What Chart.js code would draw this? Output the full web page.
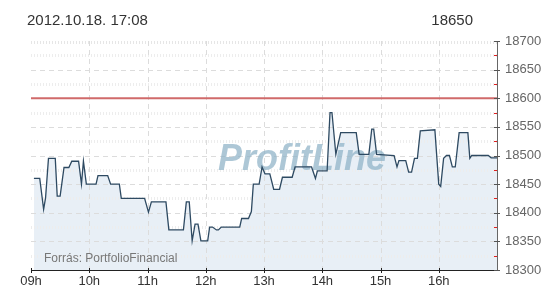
<!DOCTYPE html>
<html>
<head>
<meta charset="utf-8">
<script src="https://cdn.jsdelivr.net/npm/chart.js@4.4.0/dist/chart.umd.min.js"></script>
<style>
  html, body { margin: 0; padding: 0; background: #fff; }
  canvas { display: block; }
</style>
</head>
<body>
<canvas id="chart" width="550" height="300"></canvas>
<script>
// ---- adatok (kiolvasva a képről) ----
const times = [
  "09:03","09:09","09:13","09:15","09:18","09:25","09:27","09:30","09:34","09:39",
  "09:42","09:49","09:52","09:54","09:57","10:07","10:09","10:19","10:22","10:31",
  "10:33","10:57","11:01","11:04","11:19","11:22","11:37","11:40","11:43","11:46",
  "11:49","11:52","11:55","12:02","12:04","12:07","12:11","12:13","12:16","12:35",
  "12:37","12:44","12:47","12:49","12:55","12:58","13:01","13:06","13:10","13:16",
  "13:19","13:29","13:32","13:49","13:53","13:55","14:05","14:08","14:10","14:14",
  "14:19","14:35","14:38","14:48","14:51","14:53","14:56","15:14","15:17","15:19",
  "15:26","15:29","15:32","15:35","15:38","15:41","15:56","16:00","16:02","16:05",
  "16:08","16:11","16:14","16:17","16:21","16:30","16:32","16:34","16:51","16:54",
  "17:00"
];
const prices = [
  18460,18460,18406,18426,18495,18495,18429,18429,18479,18479,
  18490,18490,18450,18490,18450,18450,18465,18465,18450,18450,
  18425,18425,18401,18419,18419,18370,18370,18419,18419,18351,
  18380,18380,18351,18351,18375,18375,18370,18370,18375,18375,
  18390,18390,18402,18450,18450,18480,18468,18468,18441,18441,
  18462,18462,18480,18480,18460,18473,18473,18575,18575,18502,
  18540,18540,18502,18502,18546,18546,18502,18500,18480,18491,
  18491,18471,18471,18495,18495,18543,18545,18450,18446,18495,
  18500,18500,18480,18480,18540,18540,18495,18500,18500,18496,
  18496
];
const prevClose = 18600;
const hourLabels = ["09h","10h","11h","12h","13h","14h","15h","16h"];
const headerDate = "2012.10.18. 17:08";
const headerValue = "18650";
const sourceText = "Forrás: PortfolioFinancial";
const watermark = "ProfitLine";

// "HH:MM" -> perc 9:00 óta
function toMinutes(t) {
  const [h, m] = t.split(":").map(Number);
  return (h - 9) * 60 + m;
}

const points = times.map((t, i) => ({ x: toMinutes(t), y: prices[i] }));
const refLine = [{ x: 0, y: prevClose }, { x: 480, y: prevClose }];

// ---- rács, jelölők, szövegek ----
const decorPlugin = {
  id: "decor",
  beforeDatasetsDraw(chart) {
    const { ctx, chartArea: a, scales: { x, y } } = chart;
    ctx.save();
    // vízszintes rács
    for (let v = 18325; v < 18700; v += 25) {
      const py = Math.round(y.getPixelForValue(v)) + 0.5;
      ctx.beginPath();
      if (v % 50 === 0) {
        ctx.strokeStyle = "#dcdcdc";
        ctx.lineWidth = 1;
        ctx.setLineDash([5, 4]);
      } else {
        ctx.strokeStyle = "#ededed";
        ctx.lineWidth = 3;
        ctx.setLineDash([1, 2]);
      }
      ctx.moveTo(a.left, py);
      ctx.lineTo(a.right, py);
      ctx.stroke();
    }
    // felső vonal
    ctx.strokeStyle = "#e6e6e6";
    ctx.lineWidth = 3;
    ctx.setLineDash([1, 2]);
    ctx.beginPath();
    ctx.moveTo(a.left, a.top + 1.5);
    ctx.lineTo(a.right, a.top + 1.5);
    ctx.stroke();
    // függőleges rács
    ctx.strokeStyle = "#dcdcdc";
    ctx.lineWidth = 1;
    ctx.setLineDash([5, 4]);
    for (let h = 1; h < 8; h++) {
      const px = Math.round(x.getPixelForValue(h * 60)) + 0.5;
      ctx.beginPath();
      ctx.moveTo(px, a.top);
      ctx.lineTo(px, a.bottom);
      ctx.stroke();
    }
    ctx.setLineDash([]);
    // vízjel
    ctx.font = "italic bold 36px 'Liberation Sans', Arial, sans-serif";
    ctx.fillStyle = "rgba(145,180,200,0.75)";
    ctx.textAlign = "center";
    ctx.textBaseline = "alphabetic";
    ctx.fillText(watermark, 302, 170);
    ctx.restore();
  },
  afterDraw(chart) {
    const { ctx, chartArea: a, scales: { x, y } } = chart;
    ctx.save();
    // jobb tengely jelölői
    for (let v = 18300; v <= 18700; v += 25) {
      const py = Math.round(y.getPixelForValue(v)) + 0.5;
      ctx.beginPath();
      if (v % 50 === 0) {
        ctx.strokeStyle = "#555";
        ctx.moveTo(a.right - 3, py);
        ctx.lineTo(a.right + 3, py);
      } else {
        ctx.strokeStyle = "#e02020";
        ctx.moveTo(a.right - 3, py);
        ctx.lineTo(a.right, py);
      }
      ctx.lineWidth = 1;
      ctx.stroke();
    }
    // alsó tengely jelölői
    ctx.strokeStyle = "#222";
    for (let h = 0; h < 8; h++) {
      const px = Math.round(x.getPixelForValue(h * 60)) + 0.5;
      ctx.beginPath();
      ctx.moveTo(px, a.bottom - 2);
      ctx.lineTo(px, a.bottom + 3);
      ctx.stroke();
    }
    // szövegek
    ctx.fillStyle = "#333";
    ctx.font = "15px 'Liberation Sans', Arial, sans-serif";
    ctx.textBaseline = "alphabetic";
    ctx.textAlign = "left";
    ctx.fillText(headerDate, 27, 25);
    ctx.textAlign = "right";
    ctx.fillText(headerValue, 473, 25);
    ctx.font = "12px 'Liberation Sans', Arial, sans-serif";
    ctx.fillStyle = "#777";
    ctx.textAlign = "left";
    ctx.fillText(sourceText, 44, 262);
    ctx.restore();
  }
};

new Chart(document.getElementById("chart"), {
  type: "line",
  data: {
    datasets: [
      {
        data: points,
        borderColor: "#2e4a62",
        borderWidth: 1.3,
        backgroundColor: "#e8eff6",
        fill: "start",
        pointRadius: 0,
        tension: 0
      },
      {
        data: refLine,
        borderColor: "#d06a6a",
        borderWidth: 2,
        fill: false,
        pointRadius: 0
      }
    ]
  },
  options: {
    responsive: false,
    animation: false,
    devicePixelRatio: 1,
    layout: { padding: { left: 31, top: 41, right: 0, bottom: 0 } },
    plugins: {
      legend: { display: false },
      tooltip: { enabled: false },
      filler: { drawTime: "beforeDatasetsDraw" }
    },
    scales: {
      x: {
        type: "linear",
        min: 0,
        max: 480,
        grid: { display: false, drawTicks: false },
        border: { display: true, color: "#222", width: 1 },
        ticks: {
          stepSize: 60,
          padding: 4,
          color: "#333",
          font: { size: 13, family: "'Liberation Sans', Arial, sans-serif" },
          maxRotation: 0,
          autoSkip: false,
          callback: v => hourLabels[v / 60] || ""
        },
        afterFit: s => { s.height = 30; }
      },
      y: {
        position: "right",
        min: 18300,
        max: 18700,
        grid: { display: false, drawTicks: false },
        border: { display: true, color: "#666", width: 1 },
        ticks: {
          stepSize: 50,
          padding: 8,
          color: "#666",
          font: { size: 13, family: "'Liberation Sans', Arial, sans-serif" },
          callback: v => String(v)
        },
        afterFit: s => { s.width = 53; }
      }
    }
  },
  plugins: [decorPlugin]
});
</script>
</body>
</html>
